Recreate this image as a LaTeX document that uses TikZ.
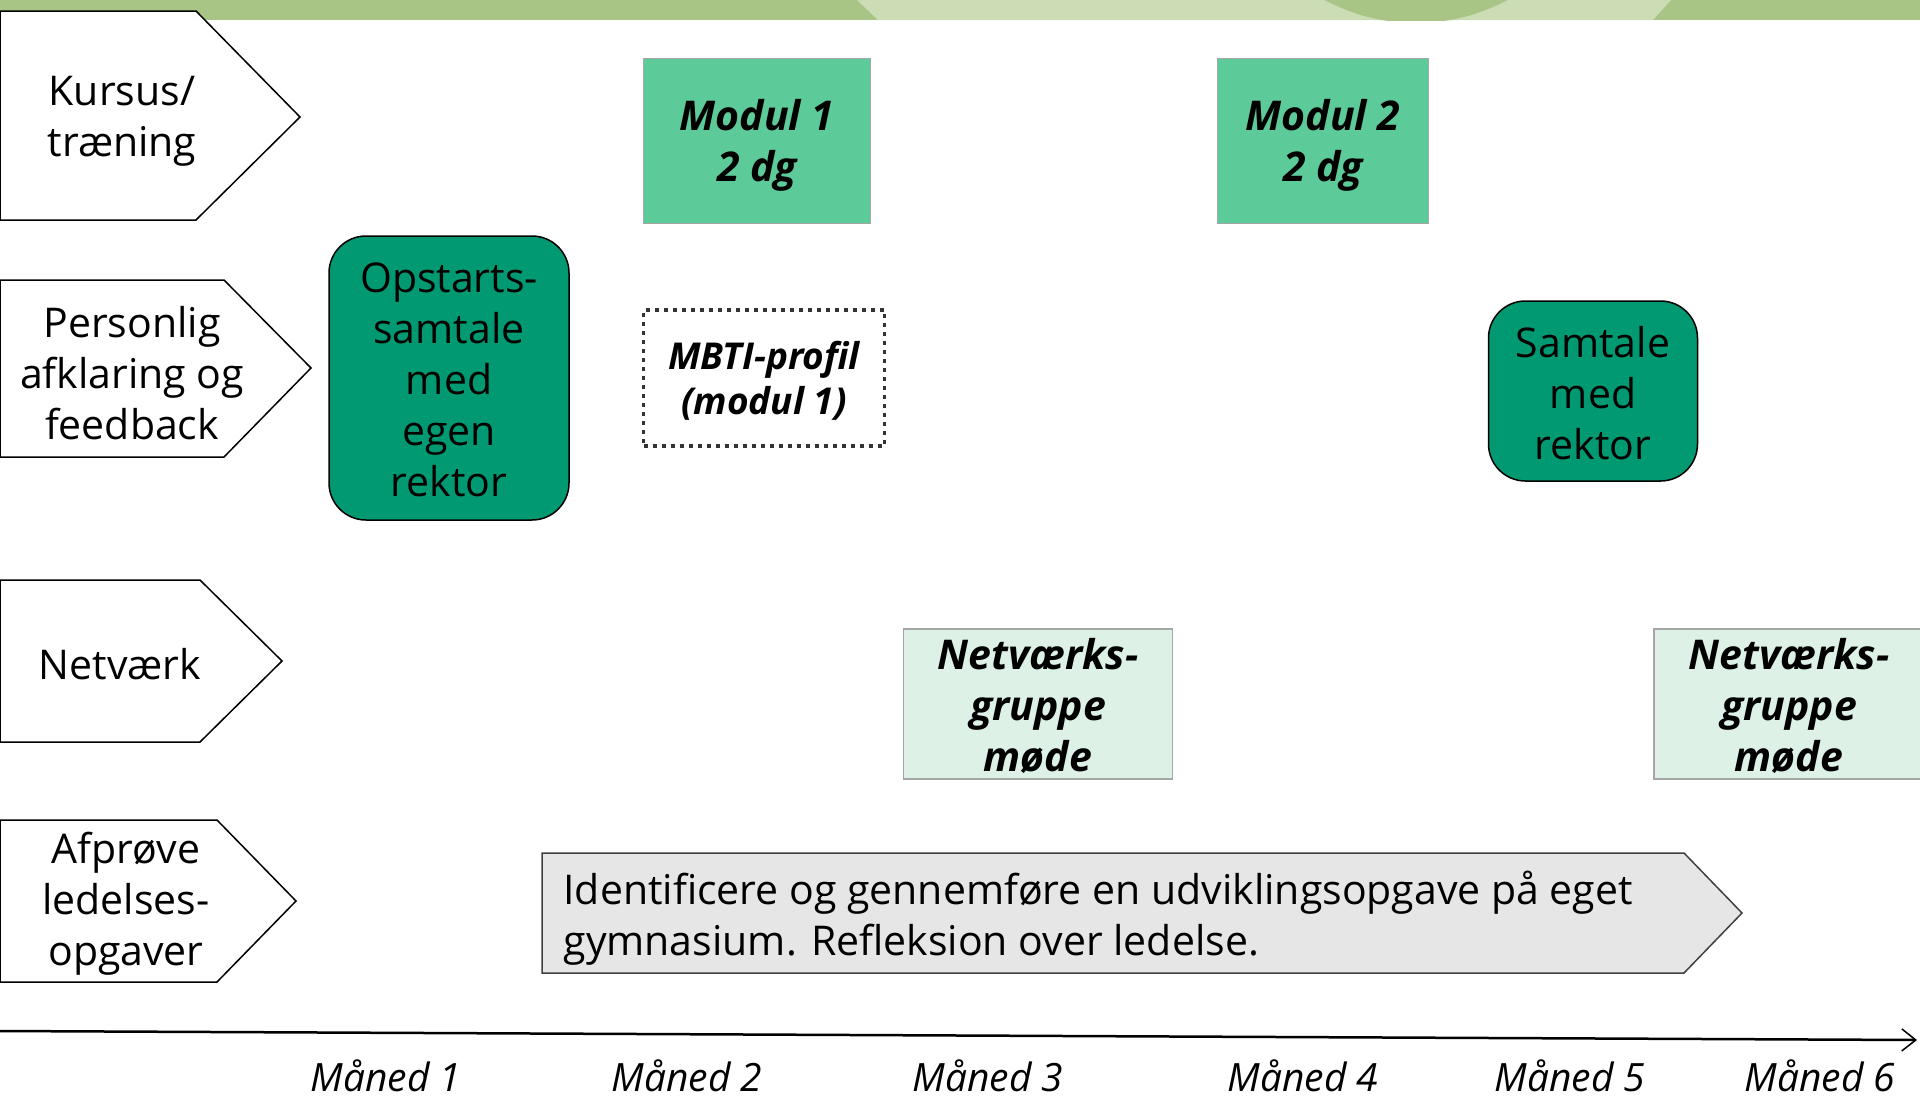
\documentclass[tikz,border=0pt]{standalone}
\usepackage{fontspec}
\setmainfont{Open Sans}
\usetikzlibrary{arrows.meta}

\definecolor{bandgreen}{HTML}{A8C585}
\definecolor{bandlight}{HTML}{CCDCB5}
\definecolor{modgreen}{HTML}{5DCA9A}
\definecolor{talkgreen}{HTML}{009971}
\definecolor{netgreen}{HTML}{DDF1E6}
\definecolor{taskgray}{HTML}{E6E6E6}

\begin{document}
\begin{tikzpicture}[x=1pt,y=-1pt,
  lbl/.style={align=center, font=\fontsize{41}{51}\selectfont},
  bilbl/.style={align=center, font=\fontsize{41}{51}\selectfont\bfseries\itshape},
  modbox/.style={draw=black!35, line width=1.5pt, fill=modgreen},
  talkbox/.style={draw=black, line width=1.5pt, fill=talkgreen, rounded corners=37pt},
  netbox/.style={draw=black!35, line width=1.5pt, fill=netgreen},
  rowshape/.style={draw=black, line width=1.5pt, fill=white}]
\clip (0,0) rectangle (1920,1100);
\fill[white] (0,0) rectangle (1920,1100);

% top band
\fill[bandgreen] (0,0) rectangle (1920,20);
\fill[bandlight] (857,0) -- (1671,0) -- (1653,20) -- (878,20) -- cycle;
\begin{scope}
\clip (0,0) rectangle (1920,20);
\fill[bandgreen] (1416,-170) circle (193);
\end{scope}

% row labels
\draw[rowshape] (0,11) -- (196,11) -- (300,117) -- (196,220) -- (0,220) -- cycle;
\node[lbl] (kursus) at (122,121) {Kursus/\\træning};
\draw[rowshape] (0,280) -- (224,280) -- (311,368) -- (224,457) -- (0,457) -- cycle;
\node[lbl] (afklaring) at (132,373) {Personlig\\afklaring og\\feedback};
\draw[rowshape] (0,580) -- (200,580) -- (282,661) -- (200,742) -- (0,742) -- cycle;
\node[lbl] (netvaerk) at (120,664) {Netværk};
\draw[rowshape] (0,820) -- (217,820) -- (296,901) -- (217,982) -- (0,982) -- cycle;
\node[lbl] (afproeve) at (126,904) {Afprøve\\ledelses-\\opgaver};

% kursus
\node[modbox, minimum width=227, minimum height=165] (modul1) at (757,141) {};
\node[bilbl] at (757,145) {Modul 1\\2 dg};
\node[modbox, minimum width=211, minimum height=165] (modul2) at (1323,141) {};
\node[bilbl] at (1323,145) {Modul 2\\2 dg};

% samtaler
\node[talkbox, minimum width=240, minimum height=284] (opstart) at (449,378) {};
\node[lbl] at (449,380) {Opstarts-\\samtale\\med\\egen\\rektor};
\node[draw=black!80, line width=3.5pt, dash pattern=on 4pt off 5pt,
  minimum width=241, minimum height=136] (mbti) at (764,378) {};
\node[align=center, font=\fontsize{37}{45}\selectfont\bfseries\itshape] at (764,381) {MBTI-profil\\(modul 1)};
\node[talkbox, minimum width=209, minimum height=180] (samtale) at (1593,391) {};
\node[lbl] at (1593,393) {Samtale\\med\\rektor};

% netvaerk
\node[netbox, minimum width=269, minimum height=150] (netmoede1) at (1038,704) {};
\node[bilbl] at (1038,706) {Netværks-\\gruppe\\møde};
\node[netbox, minimum width=270, minimum height=150] (netmoede2) at (1789,704) {};
\node[bilbl] at (1789,706) {Netværks-\\gruppe\\møde};

% udviklingsopgave
\draw[draw=black!75, line width=1.5pt, fill=taskgray]
  (542,853) -- (1684,853) -- (1742,913) -- (1684,973) -- (542,973) -- cycle;
\node[lbl, align=left, anchor=west] (opgave) at (560,918)
  {Identificere og gennemføre en udviklingsopgave på eget\\gymnasium. Refleksion over ledelse.};

% tidslinje
\coordinate (tstart) at (0,1031);
\coordinate (tend) at (1917,1040);
\draw[line width=2.5pt, -{Straight Barb[length=14pt,width=22pt,line width=1.5pt]}] (tstart) -- (tend);
\foreach \m/\x in {1/386,2/687,3/988,4/1303,5/1570,6/1820}
  \node[inner sep=0pt, font=\fontsize{39}{46}\selectfont\itshape] (maaned\m) at (\x,1076) {Måned \m};
\end{tikzpicture}
\end{document}
